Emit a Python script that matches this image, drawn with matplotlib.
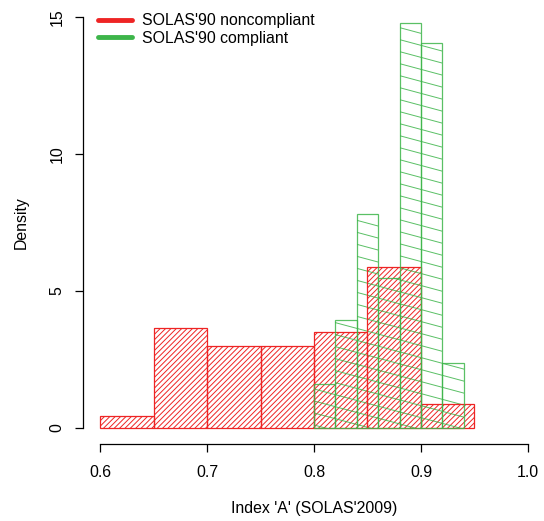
import numpy as np
import matplotlib
matplotlib.use("Agg")
from matplotlib import pyplot as plt
from matplotlib.patches import Rectangle
from matplotlib.collections import LineCollection
from matplotlib.transforms import IdentityTransform

plt.rcParams['font.family'] = ['Liberation Sans', 'DejaVu Sans']

# histogram of noncompliant ships (density)
red_breaks = [0.60, 0.65, 0.70, 0.75, 0.80, 0.85, 0.90, 0.95]
red_density = [0.45, 3.65, 3.0, 3.0, 3.5, 5.87, 0.86]

# histogram of compliant ships (density)
green_breaks = [0.80, 0.82, 0.84, 0.86, 0.88, 0.90, 0.92, 0.94]
green_density = [1.6, 3.94, 7.82, 5.48, 14.79, 14.04, 2.37]

x_ticks = [0.6, 0.7, 0.8, 0.9, 1.0]
y_ticks = [0, 5, 10, 15]
legend_labels = ["SOLAS'90 noncompliant", "SOLAS'90 compliant"]

red = '#EE2424'
green = '#3DB54A'
fs = 11.4

fig = plt.figure(figsize=(5.44, 5.21), dpi=100)
ax = fig.add_axes([82.9 / 544, (521 - 444.4) / 521, 462.2 / 544, 443.8 / 521])
ax.set_xlim(0.584, 1.016)
ax.set_ylim(-0.6, 15.6)


def hatch_bar(x0, x1, h, color, angle, spacing, alpha=1.0):
    rect = Rectangle((x0, 0), x1 - x0, h, facecolor='none', edgecolor=color,
                     lw=0.9, alpha=alpha, zorder=3)
    ax.add_patch(rect)
    # lines in pixel space, clipped to the bar
    (px0, py0), (px1, py1) = ax.transData.transform([(x0, 0), (x1, h)])
    th = np.deg2rad(angle)
    d = np.array([np.cos(th), np.sin(th)])
    n = np.array([-np.sin(th), np.cos(th)])
    corners = np.array([[px0, py0], [px1, py0], [px0, py1], [px1, py1]])
    proj = corners @ n
    segs = []
    for k in np.arange(np.floor(proj.min() / spacing), np.ceil(proj.max() / spacing) + 1):
        c = n * k * spacing
        segs.append([c - d * 2000, c + d * 2000])
    lc = LineCollection(segs, colors=color, linewidths=0.7, alpha=alpha,
                        transform=IdentityTransform(), zorder=2)
    ax.add_collection(lc)
    lc.set_clip_path(rect)


fig.canvas.draw()
for i in range(len(red_density)):
    hatch_bar(red_breaks[i], red_breaks[i + 1], red_density[i], red, 45, 3.8)
for i in range(len(green_density)):
    hatch_bar(green_breaks[i], green_breaks[i + 1], green_density[i], green, -15, 11.6, alpha=0.85)

# R-style axes
for s in ['top', 'right']:
    ax.spines[s].set_visible(False)
ax.spines['bottom'].set_bounds(0.6, 1.0)
ax.spines['left'].set_bounds(0, 15)
ax.spines['bottom'].set_linewidth(0.9)
ax.spines['left'].set_linewidth(0.9)
ax.set_xticks(x_ticks)
ax.set_xticklabels(['0.6', '0.7', '0.8', '0.9', '1.0'])
ax.set_yticks(y_ticks)
ax.set_yticklabels([str(v) for v in y_ticks], rotation=90, va='center')
ax.tick_params(direction='out', length=5.5, width=0.9, labelsize=fs)
ax.tick_params(axis='x', pad=9.5)
ax.tick_params(axis='y', pad=7.5)

ax.set_xlabel("Index 'A' (SOLAS'2009)", fontsize=fs, labelpad=15)
ax.set_ylabel("Density", fontsize=fs, labelpad=15)

ax.plot([], [], color=red, lw=3.5, solid_capstyle='round', label=legend_labels[0])
ax.plot([], [], color=green, lw=3.5, solid_capstyle='round', label=legend_labels[1])
ax.legend(loc='upper left', bbox_to_anchor=(0.02, 0.9855), frameon=False, fontsize=fs,
          handlelength=2.09, handletextpad=0.65, labelspacing=0.15, borderaxespad=0,
          borderpad=0.4)

fig.savefig('out.png', dpi=100)
